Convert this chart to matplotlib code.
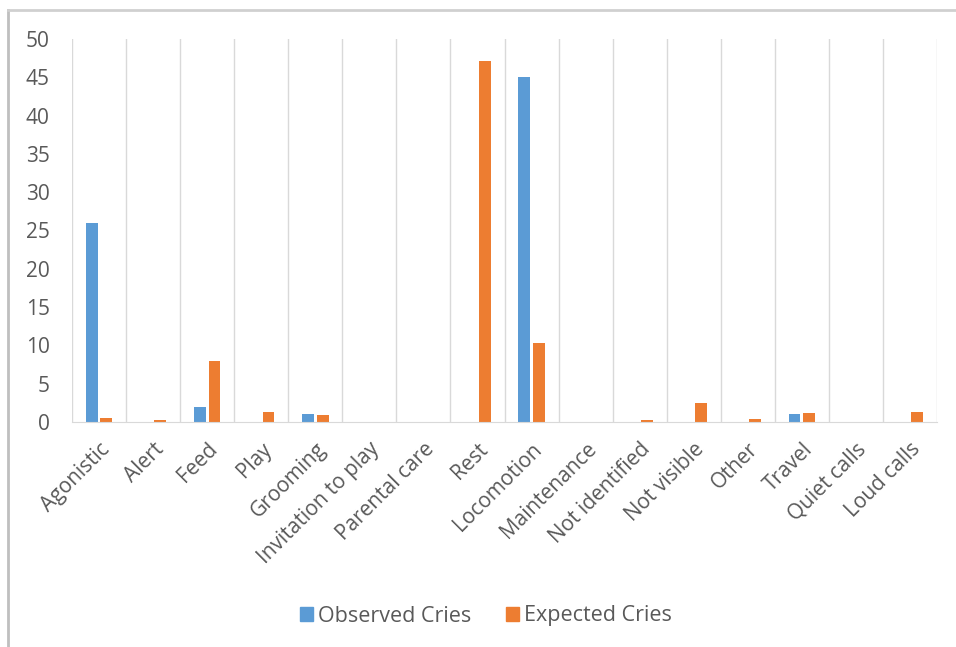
import matplotlib
matplotlib.use("Agg")
import matplotlib.pyplot as plt
from matplotlib.patches import Rectangle
from matplotlib.lines import Line2D
import numpy as np

categories = ["Agonistic", "Alert", "Feed", "Play", "Grooming", "Invitation to play",
              "Parental care", "Rest", "Locomotion", "Maintenance", "Not identified",
              "Not visible", "Other", "Travel", "Quiet calls", "Loud calls"]
observed = [26, 0, 2, 0, 1, 0, 0, 0, 45, 0, 0, 0, 0, 1, 0, 0]
expected = [0.5, 0.2, 7.9, 1.3, 0.9, 0, 0, 47.1, 10.3, 0, 0.2, 2.5, 0.4, 1.2, 0, 1.3]
yticks = [0, 5, 10, 15, 20, 25, 30, 35, 40, 45, 50]

blue = "#5B9BD5"
orange = "#ED7D31"
text_grey = "#595959"
grid_grey = "#D9D9D9"

plt.rcParams['font.family'] = ['Open Sans', 'DejaVu Sans']

W, H = 956, 647
fig = plt.figure(figsize=(W / 100, H / 100), dpi=100)
ax = fig.add_axes([72 / W, 1 - 422 / H, (937 - 72) / W, (422 - 39) / H])

x = np.arange(len(categories))
bw = 0.22
ax.bar(x - bw / 2 - 0.025, observed, bw, color=blue, zorder=3)
ax.bar(x + bw / 2 + 0.025, expected, bw, color=orange, zorder=3)

ax.set_xlim(-0.5, len(categories) - 0.5)
ax.set_ylim(0, 50)
ax.set_yticks(yticks)
ax.set_yticklabels([str(v) for v in yticks], color=text_grey, fontsize=15)
ax.tick_params(axis='y', length=0, pad=16)

# category separators
for b in np.arange(-0.5, len(categories), 1.0):
    ax.axvline(b, color=grid_grey, lw=1, zorder=1)

ax.set_xticks(x)
ax.set_xticklabels(categories, rotation=45, ha='right', rotation_mode='anchor',
                   color=text_grey, fontsize=15)
ax.tick_params(axis='x', length=0, pad=12)

for s in ['top', 'right', 'left']:
    ax.spines[s].set_visible(False)
ax.spines['bottom'].set_color(grid_grey)
ax.spines['bottom'].set_zorder(4)

handles = [Rectangle((0, 0), 1, 1, color=blue), Rectangle((0, 0), 1, 1, color=orange)]
fig.legend(handles, ["Observed Cries", "Expected Cries"], loc='center',
           bbox_to_anchor=(486 / W, 1 - 616 / H), ncol=2, frameon=False,
           handlelength=0.6, handleheight=0.6, handletextpad=0.25, columnspacing=1.6,
           prop={'size': 15.5}, labelcolor=text_grey)

# outer chart frame
fig.add_artist(Line2D([8 / W, 8 / W], [0, 1 - 10 / H], color="#BFBFBF", lw=2,
                      transform=fig.transFigure))
fig.add_artist(Line2D([8 / W, 1], [1 - 10 / H, 1 - 10 / H], color="#D0D0D0", lw=2,
                      transform=fig.transFigure))

fig.savefig("out.png", dpi=100)
